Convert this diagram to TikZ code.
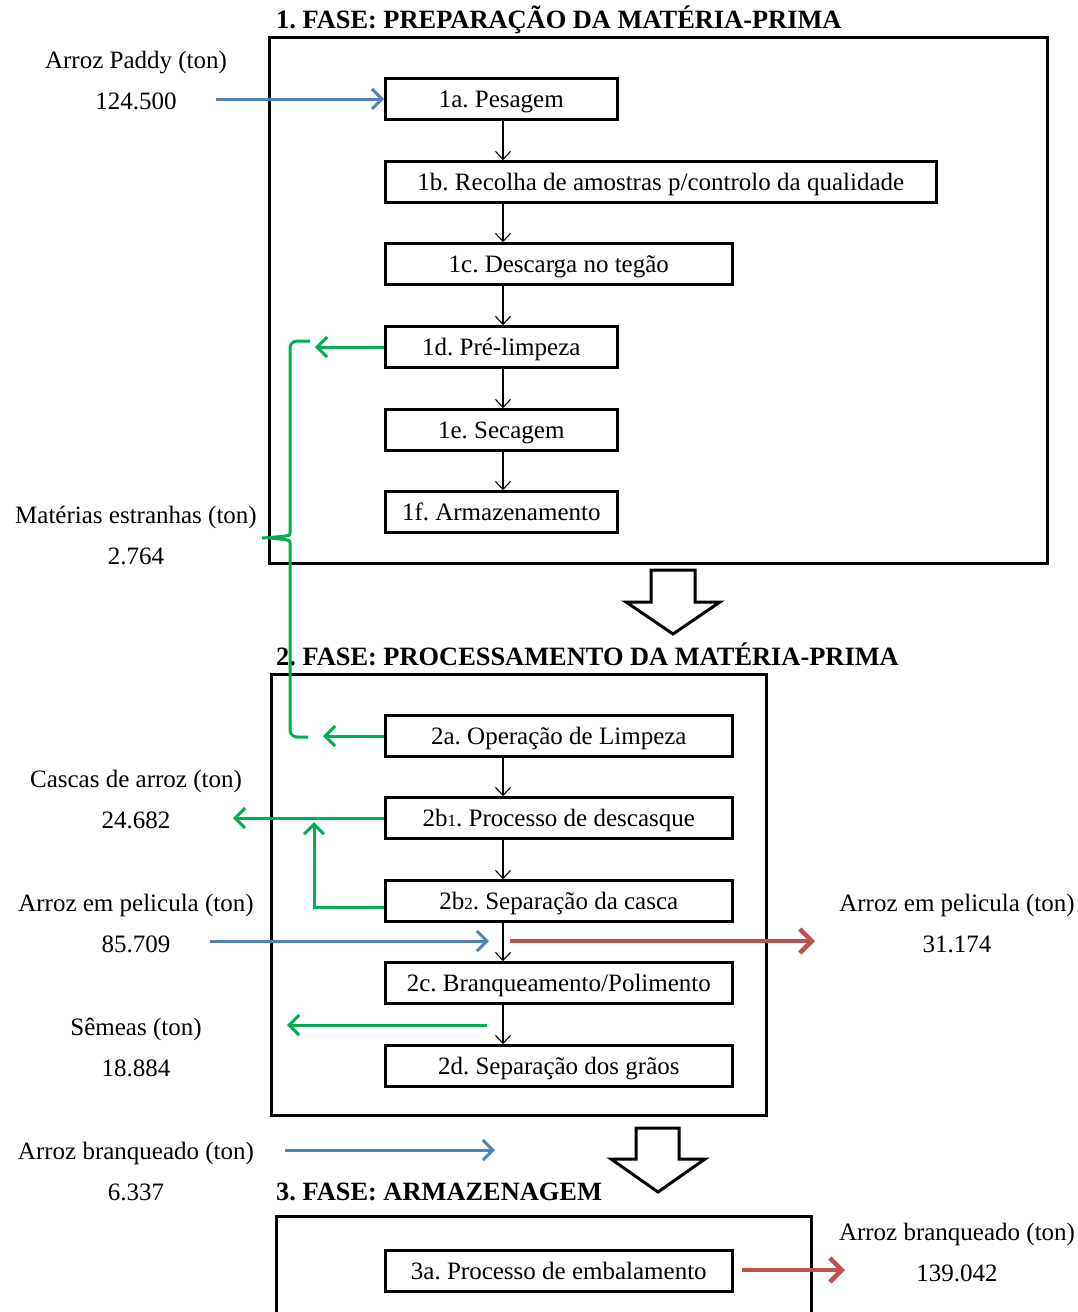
\documentclass[tikz,border=0pt]{standalone}
\usepackage{fontspec}
\setmainfont{Liberation Serif}
\usetikzlibrary{arrows.meta}
\definecolor{flowblue}{RGB}{79,129,189}
\definecolor{flowgreen}{RGB}{0,176,80}
\definecolor{flowred}{RGB}{192,80,77}
\newcommand{\smallidx}[1]{{\fontsize{17}{17}\selectfont #1}}
\frenchspacing

\begin{document}
\begin{tikzpicture}[x=1pt,y=-1pt,
  every node/.style={font=\fontsize{25}{27}\selectfont, inner sep=0pt,
    text height=17pt, text depth=5pt},
  phase/.style={draw, line width=3pt, text height=, text depth=},
  stagebox/.style={draw, line width=2.6pt, minimum height=41pt, anchor=west,
    text height=21pt, text depth=4pt},
  heading/.style={anchor=west, font=\fontsize{26.4}{28}\selectfont\bfseries},
  vflow/.style={draw, line width=1.1pt, -{Straight Barb[length=8pt,width=15pt]}},
  bflow/.style={draw=flowblue, line width=3pt, -{Straight Barb[length=10pt,width=20pt]}},
  gflow/.style={draw=flowgreen, line width=3pt, -{Straight Barb[length=10pt,width=20pt]}},
  rflow/.style={draw=flowred, line width=4.5pt, -{Straight Barb[length=12pt,width=24pt]}},
  bigarrow/.style={draw, line width=3pt, fill=white, line join=miter}
]
\useasboundingbox (0,0) rectangle (1078,1312);
\clip (0,0) rectangle (1078,1312);

% phase frames
\node[phase, minimum width=778pt, minimum height=526pt] (ph1) at (658,300) {};
\node[phase, minimum width=495pt, minimum height=441pt] (ph2) at (518.5,894.5) {};
\node[phase, minimum width=535pt, minimum height=130pt] (ph3) at (543.5,1281) {};

% headings
\node[heading] (h1) at (276,22) {1. FASE: PREPARAÇÃO DA MATÉRIA-PRIMA};
\node[heading] (h2) at (276,659) {2. FASE: PROCESSAMENTO DA MATÉRIA-PRIMA};
\node[heading] (h3) at (276,1194) {3. FASE: ARMAZENAGEM};

% phase 1 stages
\node[stagebox, minimum width=232pt] (p1a) at (384,99) {1a. Pesagem};
\node[stagebox, minimum width=551pt] (p1b) at (384,182) {1b. Recolha de amostras p/controlo da qualidade};
\node[stagebox, minimum width=347pt] (p1c) at (384,264) {1c. Descarga no tegão};
\node[stagebox, minimum width=232pt] (p1d) at (384,347) {1d. Pré-limpeza};
\node[stagebox, minimum width=232pt] (p1e) at (384,430) {1e. Secagem};
\node[stagebox, minimum width=232pt] (p1f) at (384,512) {1f. Armazenamento};

% phase 2 stages
\node[stagebox, minimum width=347pt] (p2a) at (384,736) {2a. Operação de Limpeza};
\node[stagebox, minimum width=347pt] (p2b1) at (384,818) {2b\smallidx{1}. Processo de descasque};
\node[stagebox, minimum width=347pt] (p2b2) at (384,901) {2b\smallidx{2}. Separação da casca};
\node[stagebox, minimum width=347pt] (p2c) at (384,983) {2c. Branqueamento/Polimento};
\node[stagebox, minimum width=347pt] (p2d) at (384,1066) {2d. Separação dos grãos};

% phase 3 stage
\node[stagebox, minimum width=347pt] (p3a) at (384,1271) {3a. Processo de embalamento};

% quantity labels
\node (lpaddy) at (136,62) {Arroz Paddy (ton)};
\node (vpaddy) at (136,103) {124.500};
\node (lforeign) at (136,517) {Matérias estranhas (ton)};
\node (vforeign) at (136,558) {2.764};
\node (lhusk) at (136,781) {Cascas de arroz (ton)};
\node (vhusk) at (136,822) {24.682};
\node (lbrownin) at (136,905) {Arroz em pelicula (ton)};
\node (vbrownin) at (136,946) {85.709};
\node (lbrownout) at (957,905) {Arroz em pelicula (ton)};
\node (vbrownout) at (957,946) {31.174};
\node (lbran) at (136,1029) {Sêmeas (ton)};
\node (vbran) at (136,1070) {18.884};
\node (lwhitein) at (136,1153) {Arroz branqueado (ton)};
\node (vwhitein) at (136,1194) {6.337};
\node (lwhiteout) at (957,1234) {Arroz branqueado (ton)};
\node (vwhiteout) at (957,1275) {139.042};

% main line of the process
\coordinate (ax) at (503,0);
\draw[vflow] (p1a.south -| ax) -- (p1b.north -| ax);
\draw[vflow] (p1b.south -| ax) -- (p1c.north -| ax);
\draw[vflow] (p1c.south -| ax) -- (p1d.north -| ax);
\draw[vflow] (p1d.south -| ax) -- (p1e.north -| ax);
\draw[vflow] (p1e.south -| ax) -- (p1f.north -| ax);
\draw[vflow] (p2a.south -| ax) -- (p2b1.north -| ax);
\draw[vflow] (p2b1.south -| ax) -- (p2b2.north -| ax);
\draw[vflow] (p2b2.south -| ax) -- (p2c.north -| ax);
\draw[vflow] (p2c.south -| ax) -- (p2d.north -| ax);

% inputs
\coordinate (paddyin) at (216,99);
\draw[bflow] (paddyin) -- (p1a.west);
\coordinate (brownfrom) at (210,941);
\coordinate (brownto) at (489,941);
\draw[bflow] (brownfrom) -- (brownto);
\coordinate (whitefrom) at (285,1150);
\coordinate (whiteto) at (495,1150);
\draw[bflow] (whitefrom) -- (whiteto);

% outputs
\coordinate (brownoutfrom) at (510,941);
\coordinate (brownoutto) at (815,941);
\draw[rflow] (brownoutfrom) -- (brownoutto);
\coordinate (whiteoutfrom) at (742,1270);
\coordinate (whiteoutto) at (845,1270);
\draw[rflow] (whiteoutfrom) -- (whiteoutto);

% by-products
\coordinate (foreign1) at (315,347);
\draw[gflow] (p1d.west) -- (foreign1);
\coordinate (foreign2) at (323,736);
\draw[gflow] (p2a.west) -- (foreign2);
\coordinate (huskto) at (233,818);
\draw[gflow] (p2b1.west) -- (huskto);
\coordinate (huskjoin) at (314,822);
\draw[gflow] ([yshift=-6pt]p2b2.west) -| (huskjoin);
\coordinate (branfrom) at (487,1025);
\coordinate (branto) at (287,1025);
\draw[gflow] (branfrom) -- (branto);

% brace collecting the foreign matter
\draw[flowgreen, line width=3pt, rounded corners=7pt]
  (310,341) -- (290,341) -- (290,526) .. controls (290,536) .. (262,538);
\draw[flowgreen, line width=3pt, rounded corners=7pt]
  (308,737) -- (290,737) -- (290,550) .. controls (290,540) .. (270,538);

% transitions between phases
\draw[bigarrow] (651,570) -- (695,570) -- (695,602) -- (720,602) -- (673,634)
  -- (626,602) -- (651,602) -- cycle;
\draw[bigarrow] (636,1128) -- (679,1128) -- (679,1159) -- (705,1159) -- (658,1192)
  -- (611,1159) -- (636,1159) -- cycle;
\end{tikzpicture}
\end{document}
